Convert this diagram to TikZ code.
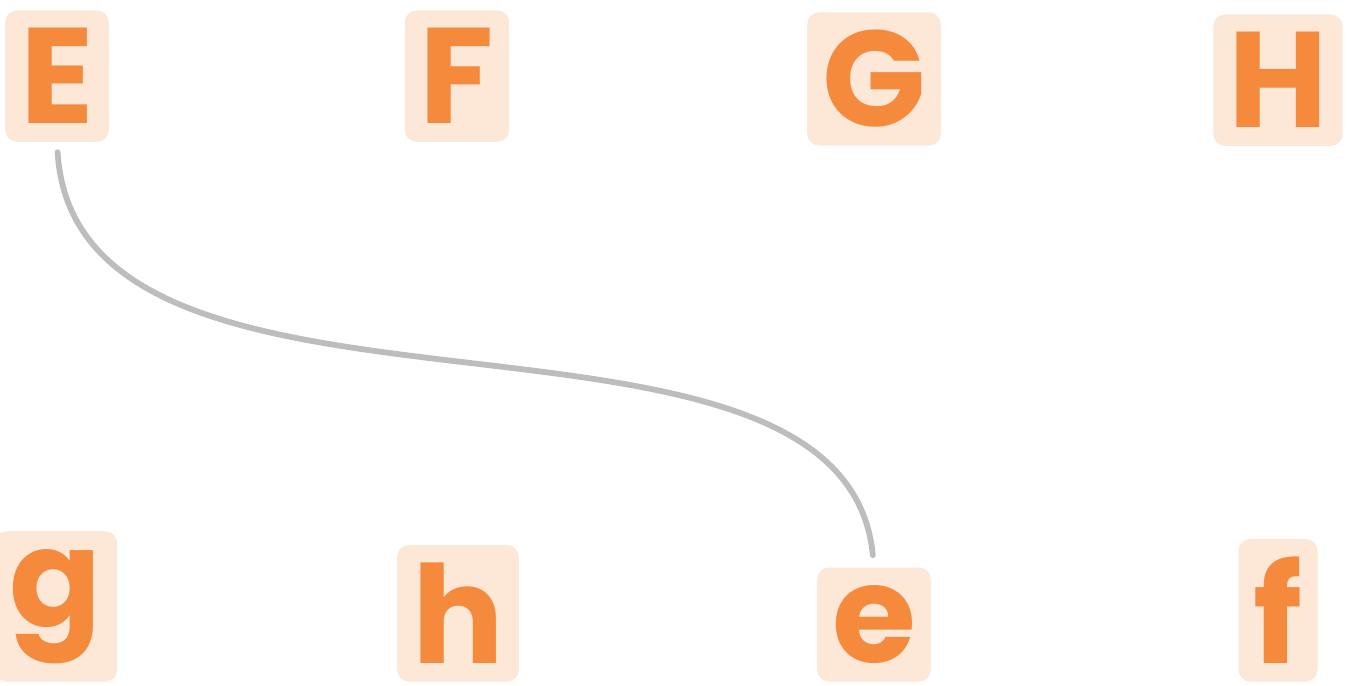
\documentclass[tikz,border=0pt]{standalone}
\usepackage{fontspec}
\setmainfont{Poppins}
\definecolor{letterorange}{HTML}{F58A3C}
\definecolor{letterpeach}{HTML}{FDE7D6}
\definecolor{linkgray}{HTML}{BDBDBD}
\begin{document}
\begin{tikzpicture}[x=0.5pt,y=-0.5pt,
  letterbox/.style={fill=letterpeach,rounded corners=6pt,inner xsep=7.5pt,inner ysep=9pt,
    text=letterorange,font=\fontsize{68}{68}\selectfont\bfseries},
  link/.style={draw=linkgray,line width=2.9pt,line cap=round,shorten <=5pt,shorten >=6pt}]
\useasboundingbox (0,0) rectangle (1347,685);
\node[letterbox,anchor=north] (E) at (57,10) {E};
\node[letterbox,anchor=north] (F) at (457,10) {F};
\node[letterbox,anchor=north] (G) at (874,12) {G};
\node[letterbox,anchor=north] (H) at (1278,14) {H};
\node[letterbox,anchor=south] (g) at (56,682) {g};
\node[letterbox,anchor=south] (h) at (458,682) {h};
\node[letterbox,anchor=south] (e) at (874,682) {e};
\node[letterbox,anchor=south] (f) at (1278,682) {f};
\draw[link] (E.south) .. controls +(20,330) and +(-30,-310) .. (e.north);
\end{tikzpicture}
\end{document}
